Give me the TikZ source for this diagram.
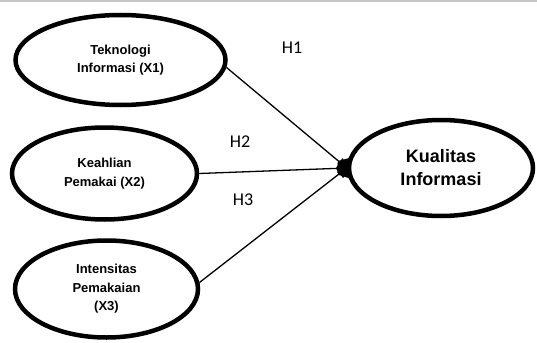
\documentclass[tikz,border=0pt]{standalone}
\usepackage{fontspec}
\setmainfont{Liberation Sans}
\newfontfamily\hfont{Carlito}
\usetikzlibrary{shapes.geometric,arrows.meta}
\tikzset{
	varbox/.style={ellipse, draw, line width=4.5pt, align=center, inner sep=0pt, font=\bfseries\fontsize{13}{18.5}\selectfont},
	hlabel/.style={font=\hfont\fontsize{18}{20}\selectfont},
	hline/.style={line width=1.3pt, shorten >=-3pt, -{Diamond[length=14pt,width=20pt]}}
}

\begin{document}
\begin{tikzpicture}[x=1pt, y=-1pt]
			%%%%% START %%%%%
			
			\useasboundingbox (0, 0) rectangle (537, 342);
			\draw[line width=1.5pt, color=black!22] (0, 1) -- (537, 1);
			
			\node[varbox, minimum width=210, minimum height=90] (X1) at (120.5, 60) {Teknologi\\Informasi (X1)};
			\node[varbox, minimum width=185, minimum height=92] (X2) at (104.5, 173.5) {Keahlian\\Pemakai (X2)};
			\node[varbox, minimum width=183, minimum height=97] (X3) at (106.5, 289) {Intensitas\\Pemakaian\\(X3)};
			
			\node[varbox, minimum width=184, minimum height=96, font=\bfseries\fontsize{18}{23}\selectfont] (Y) at (441, 168) {Kualitas\\Informasi};
			
			\draw[hline] (X1.-4) -- (Y.west);
			\draw[hline] (X2.east) -- (Y.west);
			\draw[hline] (X3.4) -- (Y.west);
			
			\node[hlabel] (H1) at (292, 48) {H1};
			\node[hlabel] (H2) at (240, 142) {H2};
			\node[hlabel] (H3) at (243, 200) {H3};
			
			%%%%% END %%%%%
		\end{tikzpicture}
\end{document}
